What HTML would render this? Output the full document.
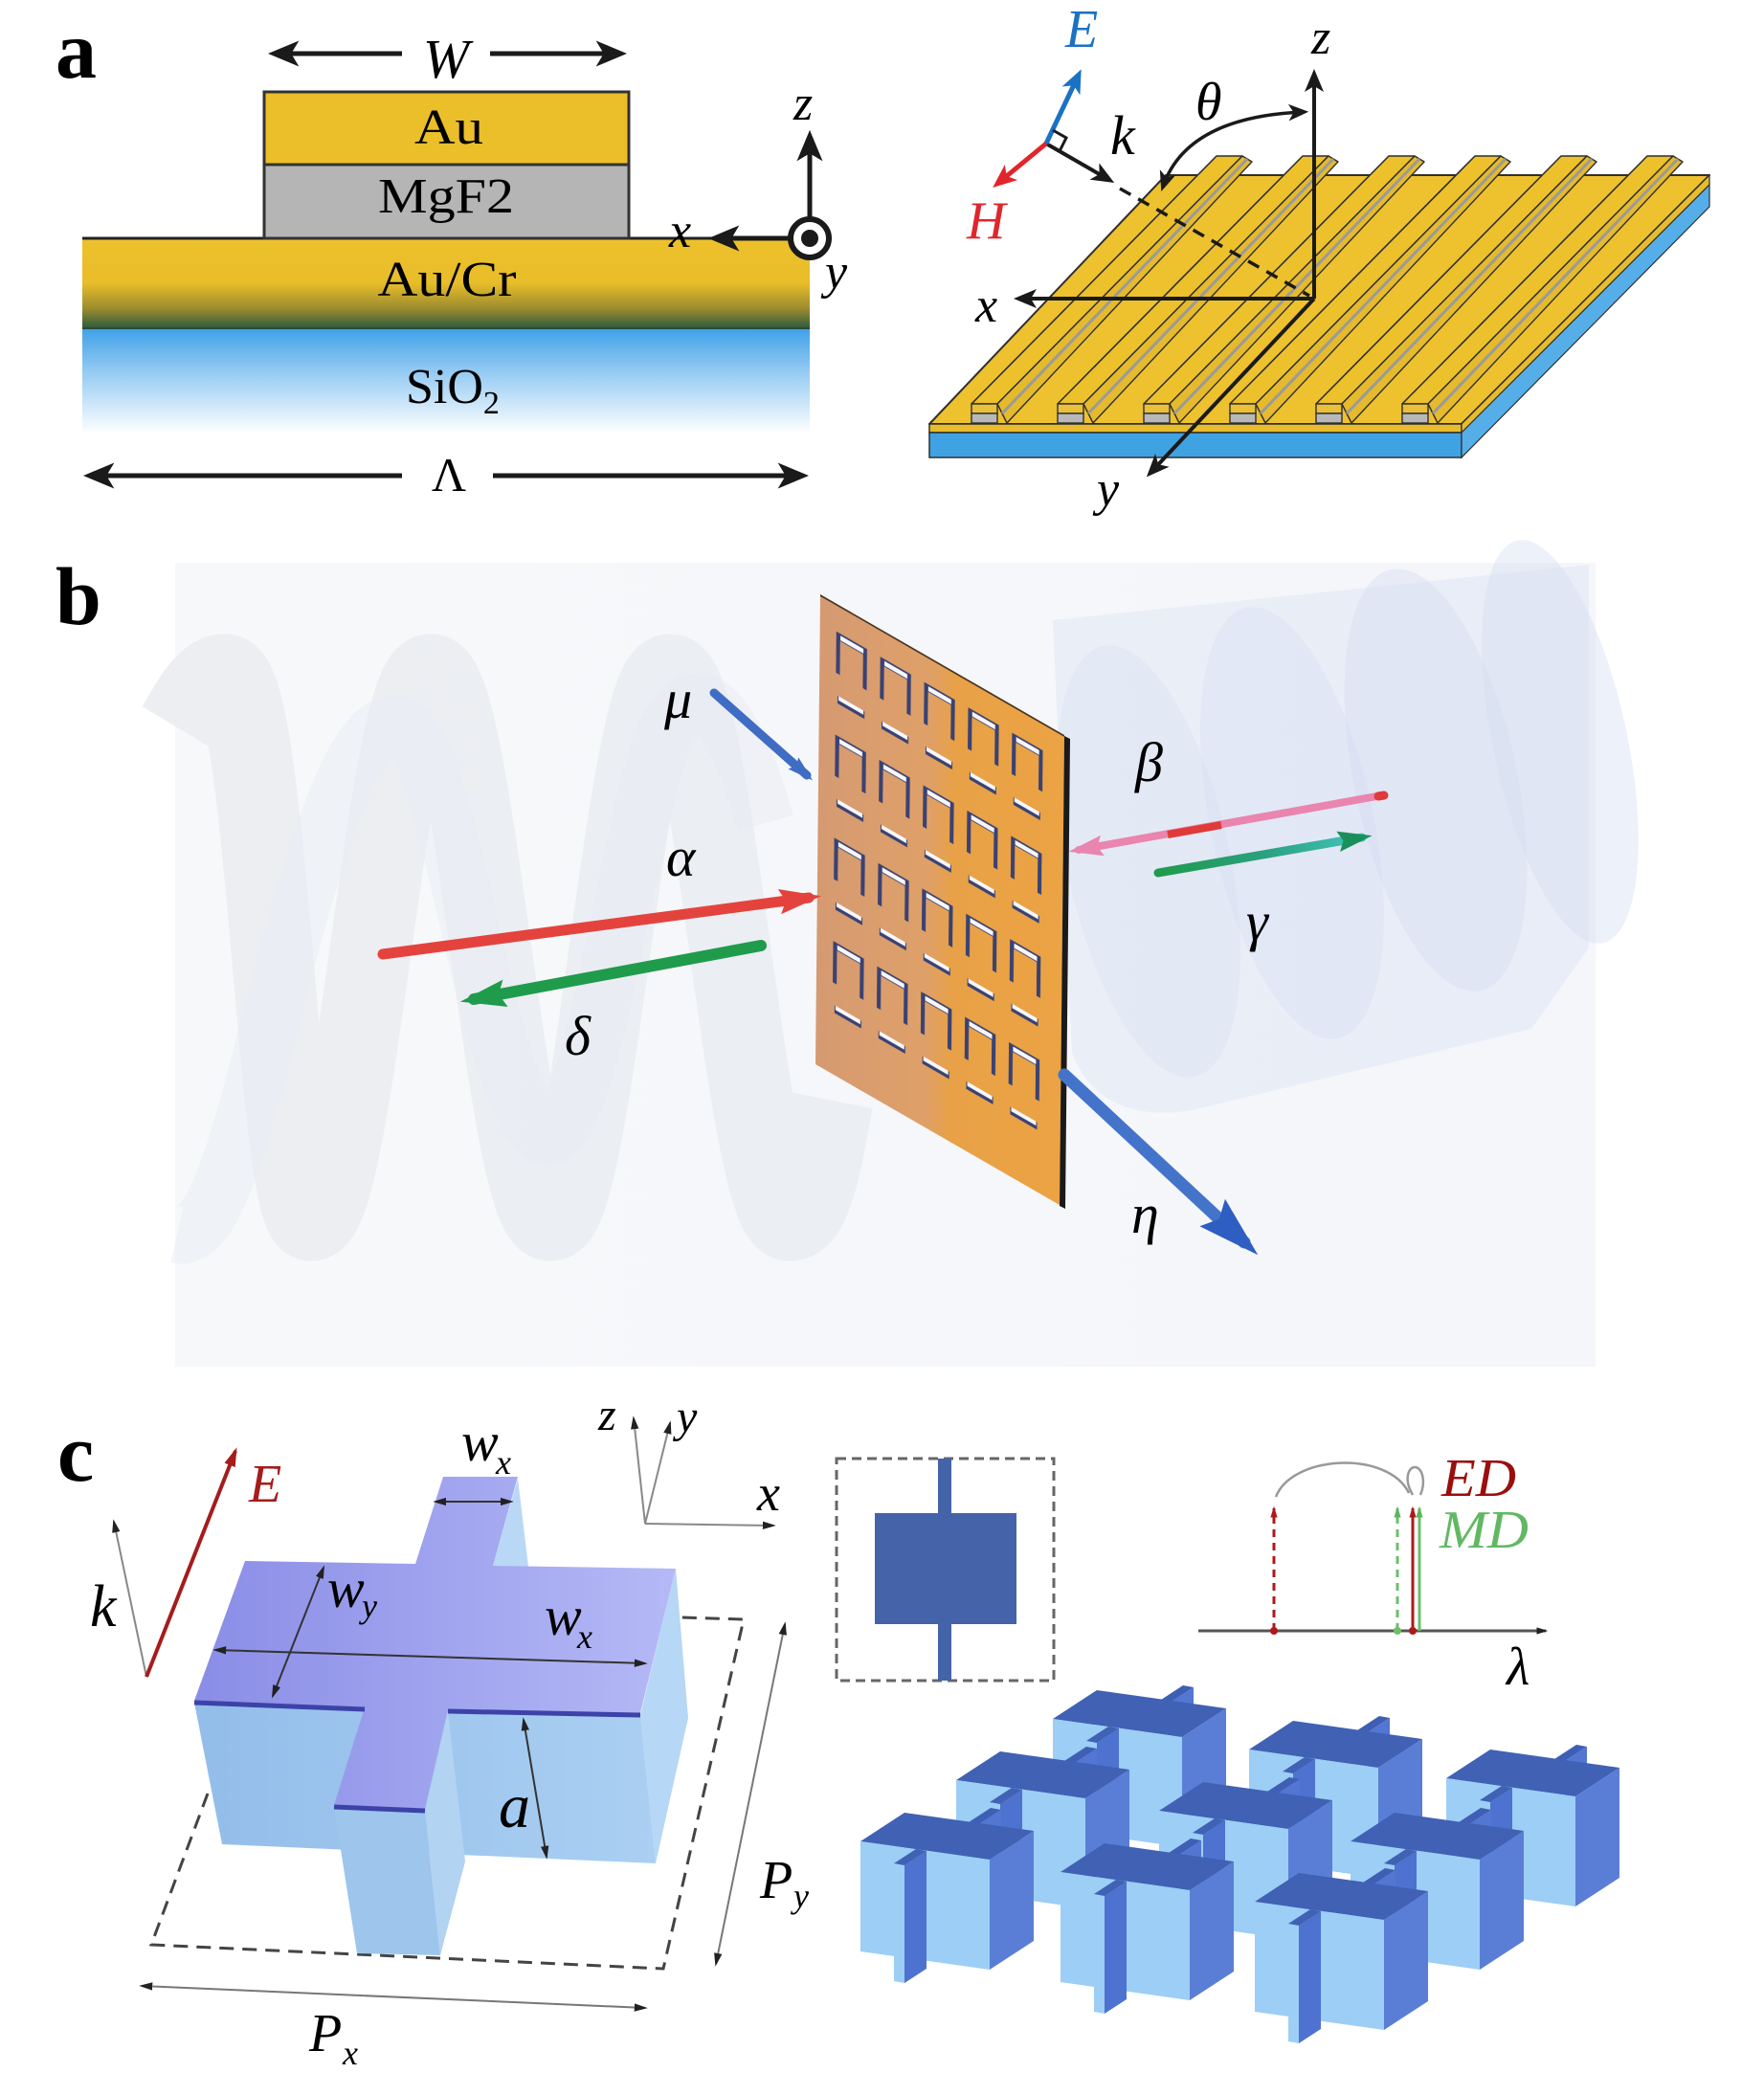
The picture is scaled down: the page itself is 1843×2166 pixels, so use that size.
<!DOCTYPE html>
<html><head><meta charset="utf-8">
<style>
html,body{margin:0;padding:0;background:#fff;}
svg{display:block;font-family:"Liberation Serif",serif;}
svg text{font-family:"Liberation Serif",serif;}
.it{font-style:italic;font-family:"Liberation Serif",serif;}
.bd{font-weight:bold;font-family:"Liberation Serif",serif;}
</style></head>
<body>
<svg width="1843" height="2166" viewBox="0 0 1843 2166" xmlns="http://www.w3.org/2000/svg" font-family="'Liberation Serif', serif">
<defs>
  <marker id="mA" viewBox="0 0 12 10" refX="9" refY="5" markerWidth="6.5" markerHeight="6.5" orient="auto-start-reverse"><path d="M0,0 L12,5 L0,10 L3,5Z" fill="#1a1a1a"/></marker>
  <marker id="mAE" viewBox="0 0 12 10" refX="9" refY="5" markerWidth="5" markerHeight="5" orient="auto"><path d="M0,0 L12,5 L0,10 L3,5Z" fill="#1B72C5"/></marker>
  <marker id="mAH" viewBox="0 0 12 10" refX="9" refY="5" markerWidth="5" markerHeight="5" orient="auto"><path d="M0,0 L12,5 L0,10 L3,5Z" fill="#E1252C"/></marker>
  <marker id="mAk" viewBox="0 0 12 10" refX="9" refY="5" markerWidth="6" markerHeight="6" orient="auto-start-reverse"><path d="M0,0 L12,5 L0,10 L3,5Z" fill="#1a1a1a"/></marker>

  <marker id="mBr" viewBox="0 0 10 6" refX="7" refY="3" markerWidth="4" markerHeight="2.6" orient="auto"><path d="M0,0 L10,3 L0,6 L1.5,3Z" fill="#E4433D"/></marker>
  <marker id="mBg" viewBox="0 0 10 6" refX="7" refY="3" markerWidth="4" markerHeight="2.6" orient="auto"><path d="M0,0 L10,3 L0,6 L1.5,3Z" fill="#1F9B4B"/></marker>
  <marker id="mBp" viewBox="0 0 10 6" refX="7" refY="3" markerWidth="4.5" markerHeight="3" orient="auto"><path d="M0,0 L10,3 L0,6 L1.5,3Z" fill="#E985AE"/></marker>
  <marker id="mBt" viewBox="0 0 10 6" refX="7" refY="3" markerWidth="4" markerHeight="2.6" orient="auto"><path d="M0,0 L10,3 L0,6 L1.5,3Z" fill="#1B8F5A"/></marker>
  <marker id="mBb" viewBox="0 0 10 6" refX="7" refY="3" markerWidth="3" markerHeight="2.4" orient="auto"><path d="M0,0 L10,3 L0,6 L1.5,3Z" fill="#3F6DC3"/></marker>
  <marker id="mBeta" viewBox="0 0 10 6" refX="7" refY="3" markerWidth="5" markerHeight="3.4" orient="auto"><path d="M0,0 L10,3 L0,6 L1.5,3Z" fill="#2E5EC2"/></marker>

  <marker id="mS" viewBox="0 0 10 6" refX="8" refY="3" markerWidth="7" markerHeight="5" orient="auto-start-reverse"><path d="M0,0 L10,3 L0,6Z" fill="#222"/></marker>
  <marker id="mSr" viewBox="0 0 10 6" refX="8" refY="3" markerWidth="5" markerHeight="3.5" orient="auto"><path d="M0,0 L10,3 L0,6Z" fill="#A51C1C"/></marker>
  <marker id="mPr" viewBox="0 0 10 6" refX="8" refY="3" markerWidth="4" markerHeight="3" orient="auto"><path d="M0,0 L10,3 L0,6Z" fill="#B01818"/></marker>
  <marker id="mPg" viewBox="0 0 10 6" refX="8" refY="3" markerWidth="4" markerHeight="3" orient="auto"><path d="M0,0 L10,3 L0,6Z" fill="#5DB55D"/></marker>
  <marker id="mPk" viewBox="0 0 10 6" refX="8" refY="3" markerWidth="4" markerHeight="3" orient="auto"><path d="M0,0 L10,3 L0,6Z" fill="#222"/></marker>

  <linearGradient id="aucr" x1="0" y1="0" x2="0" y2="1">
    <stop offset="0" stop-color="#EDC12B"/>
    <stop offset="0.5" stop-color="#E8BD2A"/>
    <stop offset="0.78" stop-color="#9C8C2E"/>
    <stop offset="1" stop-color="#2E5A3E"/>
  </linearGradient>
  <linearGradient id="sio2" x1="0" y1="0" x2="0" y2="1">
    <stop offset="0" stop-color="#3FA0E8"/>
    <stop offset="0.4" stop-color="#92C9F2"/>
    <stop offset="1" stop-color="#FFFFFF"/>
  </linearGradient>
  <linearGradient id="plateg" x1="0" y1="0" x2="1" y2="0">
    <stop offset="0" stop-color="#D59A72"/>
    <stop offset="0.45" stop-color="#DFA068"/>
    <stop offset="0.55" stop-color="#E8A147"/>
    <stop offset="1" stop-color="#EBA343"/>
  </linearGradient>
  <linearGradient id="topg" x1="203" y1="0" x2="706" y2="0" gradientUnits="userSpaceOnUse">
    <stop offset="0" stop-color="#8A8DE6"/>
    <stop offset="1" stop-color="#B5B9F6"/>
  </linearGradient>
  <linearGradient id="frontg" x1="203" y1="0" x2="685" y2="0" gradientUnits="userSpaceOnUse">
    <stop offset="0" stop-color="#93BDEA"/>
    <stop offset="1" stop-color="#AACFF2"/>
  </linearGradient>
  <linearGradient id="gammag" x1="1210" y1="0" x2="1432" y2="0" gradientUnits="userSpaceOnUse">
    <stop offset="0" stop-color="#1F9B4B"/>
    <stop offset="0.5" stop-color="#2AA080"/>
    <stop offset="1" stop-color="#45C8C0"/>
  </linearGradient>
  <linearGradient id="bbg" x1="0" y1="0" x2="1" y2="0">
    <stop offset="0" stop-color="#F7F8FA"/>
    <stop offset="1" stop-color="#F4F6FA"/>
  </linearGradient>

  <pattern id="holes" patternUnits="userSpaceOnUse" x="6" y="5" width="18" height="22">
    <path d="M1.5,9.5 V1.5 H12.5 V9.5" stroke="#3A4272" stroke-width="1.6" fill="none"/>
    <path d="M2.4,1.6 H11.8" stroke="#F7F7FB" stroke-width="1.0" fill="none"/>
    <path d="M1.5,15 H12.5" stroke="#3A4272" stroke-width="1.6" fill="none"/>
    <path d="M1.9,14.6 H12.1" stroke="#F7F7FB" stroke-width="0.9" fill="none"/>
  </pattern>

  <g id="strip">
    <polygon points="0,163 27,163 -229,422 -256,422" fill="#EDC12C" stroke="#2f2f2f" stroke-width="1.6" stroke-linejoin="round"/>
    <polygon points="27,163 37,169 -219,442 -229,422" fill="#E5BA2C" stroke="#2f2f2f" stroke-width="1.4" stroke-linejoin="round"/>
    <line x1="32" y1="166" x2="-224" y2="432" stroke="#9A9A9A" stroke-width="3"/>
    <rect x="-256" y="422" width="27" height="10" fill="#EAC03A" stroke="#2f2f2f" stroke-width="1.4"/>
    <rect x="-256" y="432" width="27" height="10" fill="#B8B8B8" stroke="#2f2f2f" stroke-width="1.4"/>
  </g>

  <g id="cube">
    <polygon points="113,-20 124,-18 147,-33 136,-35" fill="#3F5FB5"/>
    <polygon points="124,-18 147,-33 147,10 124,25" fill="#5376D2"/>
    <polygon points="0,0 135,19 181,-11 46,-30" fill="#4061B4"/>
    <polygon points="0,0 135,19 135,134 0,115" fill="#9CCEF6"/>
    <polygon points="135,19 181,-11 181,104 135,134" fill="#5A7ED6"/>
    <polygon points="69,10 46,25 46,148 69,133" fill="#4E72CF"/>
    <polygon points="35,23 46,25 46,148 35,146" fill="#9CCEF6"/>
    <polygon points="58,8 69,10 46,25 35,23" fill="#4061B4"/>
  </g>
</defs>

<rect width="1843" height="2166" fill="#fff"/>

<!-- ================= PANEL A LEFT ================= -->
<text x="58" y="81" font-size="86" font-weight="bold" class="bd">a</text>

<rect x="86" y="249" width="760" height="94" fill="url(#aucr)"/>
<rect x="86" y="343" width="760" height="110" fill="url(#sio2)"/>
<line x1="86" y1="343" x2="846" y2="343" stroke="#2A4A3A" stroke-width="2"/>
<line x1="86" y1="249" x2="846" y2="249" stroke="#222" stroke-width="3"/>
<rect x="276" y="96" width="381" height="76" fill="#EBBF2A" stroke="#333" stroke-width="3"/>
<rect x="276" y="172" width="381" height="77" fill="#B5B5B5" stroke="#333" stroke-width="3"/>

<text x="469" y="150" font-size="52" text-anchor="middle" textLength="72" lengthAdjust="spacingAndGlyphs">Au</text>
<text x="466" y="222" font-size="52" text-anchor="middle" textLength="142" lengthAdjust="spacingAndGlyphs">MgF2</text>
<text x="467" y="309" font-size="52" text-anchor="middle" textLength="145" lengthAdjust="spacingAndGlyphs">Au/Cr</text>
<text x="424" y="421" font-size="52">SiO<tspan font-size="34" dy="11">2</tspan></text>

<!-- W arrow -->
<line x1="420" y1="56" x2="288" y2="56" stroke="#1a1a1a" stroke-width="5" marker-end="url(#mA)"/>
<line x1="512" y1="56" x2="647" y2="56" stroke="#1a1a1a" stroke-width="5" marker-end="url(#mA)"/>
<text x="466" y="81" font-size="58" font-style="italic" class="it" text-anchor="middle">W</text>

<!-- Lambda arrow -->
<line x1="420" y1="497" x2="95" y2="497" stroke="#1a1a1a" stroke-width="5" marker-end="url(#mA)"/>
<line x1="515" y1="497" x2="837" y2="497" stroke="#1a1a1a" stroke-width="5" marker-end="url(#mA)"/>
<text x="469" y="513" font-size="50" text-anchor="middle">Λ</text>

<!-- axes a-left -->
<line x1="846" y1="228" x2="846" y2="144" stroke="#1a1a1a" stroke-width="5" marker-end="url(#mA)"/>
<line x1="824" y1="249" x2="748" y2="249" stroke="#1a1a1a" stroke-width="5" marker-end="url(#mA)"/>
<circle cx="846" cy="249" r="20" fill="#fff" stroke="#1a1a1a" stroke-width="6"/>
<circle cx="846" cy="249" r="9" fill="#1a1a1a"/>
<text x="829" y="125" font-size="52" font-style="italic" class="it">z</text>
<text x="699" y="258" font-size="52" font-style="italic" class="it">x</text>
<text x="862" y="301" font-size="52" font-style="italic" class="it">y</text>

<!-- ================= PANEL A RIGHT ================= -->
<polygon points="1218,183 1786,183 1527,443 971,443" fill="#EEC12E" stroke="#2f2f2f" stroke-width="2" stroke-linejoin="round"/>
<polygon points="971,443 1527,443 1527,452 971,452" fill="#E8BC2C" stroke="#2f2f2f" stroke-width="1.5"/>
<polygon points="971,452 1527,452 1527,478 971,478" fill="#3FA2E2" stroke="#2f2f2f" stroke-width="1.5"/>
<polygon points="1527,443 1786,183 1786,193 1527,452" fill="#E8BC2C" stroke="#2f2f2f" stroke-width="1.2"/>
<polygon points="1527,452 1786,193 1786,216 1527,478" fill="#55AEE8" stroke="#2f2f2f" stroke-width="1.2"/>

<use href="#strip" x="1271" y="0"/>
<use href="#strip" x="1361" y="0"/>
<use href="#strip" x="1451" y="0"/>
<use href="#strip" x="1541" y="0"/>
<use href="#strip" x="1631" y="0"/>
<use href="#strip" x="1721" y="0"/>

<line x1="1373" y1="312" x2="1373" y2="78" stroke="#1a1a1a" stroke-width="4" marker-end="url(#mAk)"/>
<line x1="1373" y1="312" x2="1065" y2="312" stroke="#1a1a1a" stroke-width="4" marker-end="url(#mAk)"/>
<line x1="1373" y1="312" x2="1202" y2="494" stroke="#1a1a1a" stroke-width="4" marker-end="url(#mAk)"/>
<line x1="1170" y1="197" x2="1368" y2="309" stroke="#1a1a1a" stroke-width="3.5" stroke-dasharray="13 9"/>
<line x1="1093" y1="150" x2="1159" y2="188" stroke="#1a1a1a" stroke-width="4" marker-end="url(#mAk)"/>
<line x1="1093" y1="150" x2="1127" y2="78" stroke="#1B72C5" stroke-width="5" marker-end="url(#mAE)"/>
<line x1="1093" y1="150" x2="1042" y2="192" stroke="#E1252C" stroke-width="5" marker-end="url(#mAH)"/>
<path d="M1100,136 L1114,144 L1107,158" fill="none" stroke="#1a1a1a" stroke-width="3"/>
<path d="M1215,195 Q1240,122 1362,117" fill="none" stroke="#1a1a1a" stroke-width="3.5" marker-start="url(#mAk)" marker-end="url(#mAk)"/>

<text x="1113" y="49" font-size="56" font-style="italic" class="it" fill="#1B72C5">E</text>
<text x="1010" y="249" font-size="56" font-style="italic" class="it" fill="#E1252C">H</text>
<text x="1160" y="161" font-size="58" font-style="italic" class="it">k</text>
<text x="1249" y="125" font-size="56" font-style="italic" class="it">θ</text>
<text x="1370" y="56" font-size="52" font-style="italic" class="it">z</text>
<text x="1019" y="336" font-size="52" font-style="italic" class="it">x</text>
<text x="1146" y="528" font-size="52" font-style="italic" class="it">y</text>

<!-- ================= PANEL B ================= -->
<text x="58" y="652" font-size="86" font-weight="bold" class="bd">b</text>
<rect x="183" y="588" width="1484" height="840" fill="url(#bbg)"/>

<path d="M185,760 C200,735 215,705 235,705 C280,705 290,1275 325,1275 C370,1275 405,705 450,705 C495,705 530,1275 575,1275 C620,1275 655,705 700,705 C745,705 780,1275 825,1275 C850,1275 860,1200 870,1150"
  fill="none" stroke="#EAECF1" stroke-width="85" opacity="0.9"/>
<path d="M185,1290 C230,1300 260,1150 300,1000 C340,850 380,740 420,760 C470,785 500,1100 560,1180 C610,1240 650,900 690,780 C720,700 760,720 800,860"
  fill="none" stroke="#E7EBF3" stroke-width="60" opacity="0.5"/>

<path d="M1100,648 L1660,590 L1660,990 L1600,1075 L1245,1160 Q1150,1175 1120,1100 Z" fill="#E4E9F5" opacity="0.7"/>
<ellipse cx="1200" cy="900" rx="85" ry="230" transform="rotate(-12 1200 900)" fill="#D9E0F2" opacity="0.4"/>
<ellipse cx="1350" cy="860" rx="85" ry="230" transform="rotate(-12 1350 860)" fill="#D7DFF2" opacity="0.4"/>
<ellipse cx="1500" cy="815" rx="85" ry="225" transform="rotate(-12 1500 815)" fill="#D5DDF1" opacity="0.4"/>
<ellipse cx="1630" cy="775" rx="70" ry="215" transform="rotate(-12 1630 775)" fill="#D3DCF1" opacity="0.4"/>

<g transform="matrix(2.55,1.47,-0.05,4.9,857,622)">
  <rect x="0" y="0" width="100" height="100" fill="url(#plateg)"/>
  <rect x="6" y="5" width="90" height="88" fill="url(#holes)"/>
  <line x1="0" y1="0" x2="100" y2="0" stroke="#4a3520" stroke-width="0.4"/>
</g>
<polygon points="1112,769 1118,772 1113,1263 1107,1260" fill="#1a1a1a"/>

<line x1="746" y1="724" x2="843" y2="810" stroke="#3F6DC3" stroke-width="9" stroke-linecap="round" marker-end="url(#mBb)"/>
<line x1="400" y1="997" x2="845" y2="938" stroke="#E4433D" stroke-width="11" stroke-linecap="round" marker-end="url(#mBr)"/>
<line x1="795" y1="988" x2="495" y2="1044" stroke="#1F9B4B" stroke-width="12" stroke-linecap="round" marker-end="url(#mBg)"/>
<line x1="1444" y1="831" x2="1127" y2="888" stroke="#E985AE" stroke-width="8" stroke-linecap="round" marker-end="url(#mBp)"/>
<line x1="1220" y1="872" x2="1276" y2="862" stroke="#E03A3A" stroke-width="8"/>
<line x1="1440" y1="832" x2="1446" y2="831" stroke="#E03A3A" stroke-width="9" stroke-linecap="round"/>
<line x1="1210" y1="912" x2="1423" y2="875" stroke="url(#gammag)" stroke-width="9" stroke-linecap="round" marker-end="url(#mBt)"/>
<line x1="1112" y1="1123" x2="1300" y2="1298" stroke="#4474CA" stroke-width="13" stroke-linecap="round" marker-end="url(#mBeta)"/>

<text x="694" y="750" font-size="58" font-style="italic" class="it">μ</text>
<text x="696" y="915" font-size="58" font-style="italic" class="it">α</text>
<text x="590" y="1102" font-size="58" font-style="italic" class="it">δ</text>
<text x="1186" y="816" font-size="58" font-style="italic" class="it">β</text>
<text x="1302" y="982" font-size="58" font-style="italic" class="it">γ</text>
<text x="1182" y="1288" font-size="58" font-style="italic" class="it">η</text>

<!-- ================= PANEL C LEFT ================= -->
<text x="60" y="1547" font-size="86" font-weight="bold" class="bd">c</text>

<path d="M217,1874 L158,2032 L693,2057 L777,1692 L711,1690" fill="none" stroke="#444" stroke-width="3" stroke-dasharray="15 9"/>

<polygon points="203,1779 669,1792 685,1947 232,1927" fill="url(#frontg)"/>
<polygon points="706,1639 719,1795 685,1947 669,1792" fill="#B6D7F5"/>
<polygon points="541,1545 552,1637 515,1636" fill="#B8D8F5"/>
<polygon points="349,1888 444,1892 460,2043 373,2041" fill="#9EC5EC"/>
<polygon points="468,1788 444,1892 460,2043 486,1945" fill="#B2D3F2"/>
<polygon points="463,1543 541,1543 515,1636 706,1639 669,1790 468,1786 444,1890 349,1886 381,1784 203,1777 256,1631 434,1634" fill="url(#topg)"/>
<line x1="203" y1="1779" x2="381" y2="1786" stroke="#3C42A8" stroke-width="5"/>
<line x1="468" y1="1788" x2="669" y2="1792" stroke="#3C42A8" stroke-width="5"/>
<line x1="349" y1="1888" x2="444" y2="1892" stroke="#3C42A8" stroke-width="5"/>

<line x1="455" y1="1569" x2="534" y2="1569" stroke="#333" stroke-width="2" marker-start="url(#mS)" marker-end="url(#mS)"/>
<line x1="338" y1="1638" x2="285" y2="1772" stroke="#333" stroke-width="2" marker-start="url(#mS)" marker-end="url(#mS)"/>
<line x1="225" y1="1724" x2="674" y2="1738" stroke="#333" stroke-width="2" marker-start="url(#mS)" marker-end="url(#mS)"/>
<line x1="547" y1="1797" x2="571" y2="1940" stroke="#333" stroke-width="2" marker-start="url(#mS)" marker-end="url(#mS)"/>
<line x1="820" y1="1697" x2="748" y2="2052" stroke="#777" stroke-width="2" marker-start="url(#mS)" marker-end="url(#mS)"/>
<line x1="148" y1="2075" x2="674" y2="2098" stroke="#777" stroke-width="2" marker-start="url(#mS)" marker-end="url(#mS)"/>

<line x1="153" y1="1752" x2="119" y2="1590" stroke="#888" stroke-width="2" marker-end="url(#mS)"/>
<line x1="153" y1="1752" x2="246" y2="1516" stroke="#A51C1C" stroke-width="4" marker-end="url(#mSr)"/>

<line x1="674" y1="1592" x2="662" y2="1482" stroke="#888" stroke-width="2" marker-end="url(#mS)"/>
<line x1="674" y1="1592" x2="700" y2="1487" stroke="#888" stroke-width="2" marker-end="url(#mS)"/>
<line x1="674" y1="1592" x2="808" y2="1594" stroke="#888" stroke-width="2" marker-end="url(#mS)"/>

<text x="260" y="1569" font-size="56" font-style="italic" class="it" fill="#A51C1C">E</text>
<text x="94" y="1699" font-size="62" font-style="italic" class="it">k</text>
<text x="482" y="1526" font-size="58" font-style="italic" class="it">w</text><text x="518" y="1540" font-size="36" font-style="italic" class="it">x</text>
<text x="342" y="1679" font-size="58" font-style="italic" class="it">w</text><text x="378" y="1690" font-size="36" font-style="italic" class="it">y</text>
<text x="569" y="1708" font-size="58" font-style="italic" class="it">w</text><text x="603" y="1722" font-size="36" font-style="italic" class="it">x</text>
<text x="521" y="1909" font-size="66" font-style="italic" class="it">a</text>
<text x="794" y="1983" font-size="56" font-style="italic" class="it">P</text><text x="829" y="1993" font-size="36" font-style="italic" class="it">y</text>
<text x="323" y="2143" font-size="56" font-style="italic" class="it">P</text><text x="358" y="2157" font-size="36" font-style="italic" class="it">x</text>
<text x="625" y="1494" font-size="48" font-style="italic" class="it">z</text>
<text x="707" y="1496" font-size="48" font-style="italic" class="it">y</text>
<text x="791" y="1578" font-size="54" font-style="italic" class="it">x</text>

<!-- ================= PANEL C RIGHT ================= -->
<rect x="874" y="1524" width="227" height="232" fill="none" stroke="#666" stroke-width="3" stroke-dasharray="10 6"/>
<rect x="980" y="1524" width="14" height="232" fill="#4563A8"/>
<rect x="914" y="1581" width="148" height="116" fill="#4563A8"/>

<line x1="1252" y1="1704" x2="1615" y2="1704" stroke="#555" stroke-width="3" marker-end="url(#mPk)"/>
<line x1="1331" y1="1704" x2="1331" y2="1576" stroke="#B01818" stroke-width="3" stroke-dasharray="8 6" marker-end="url(#mPr)"/>
<line x1="1460" y1="1704" x2="1460" y2="1576" stroke="#6DBE6D" stroke-width="3" stroke-dasharray="8 6" marker-end="url(#mPg)"/>
<line x1="1476" y1="1704" x2="1476" y2="1576" stroke="#B01818" stroke-width="3" marker-end="url(#mPr)"/>
<line x1="1483" y1="1704" x2="1483" y2="1576" stroke="#6DBE6D" stroke-width="3" marker-end="url(#mPg)"/>
<circle cx="1331" cy="1704" r="4" fill="#B01818"/>
<circle cx="1460" cy="1704" r="4" fill="#6DBE6D"/>
<circle cx="1476" cy="1704" r="4" fill="#B01818"/>
<path d="M1333,1564 C1350,1520 1450,1515 1472,1560" fill="none" stroke="#999" stroke-width="2.5"/>
<path d="M1476,1562 C1466,1545 1472,1533 1478,1533 C1486,1533 1490,1548 1484,1562" fill="none" stroke="#999" stroke-width="2.5"/>

<text x="1506" y="1563" font-size="56" font-style="italic" class="it" fill="#9B0E0E" textLength="78" lengthAdjust="spacingAndGlyphs">ED</text>
<text x="1504" y="1617" font-size="56" font-style="italic" class="it" fill="#62B862" textLength="93" lengthAdjust="spacingAndGlyphs">MD</text>
<text x="1574" y="1760" font-size="56" font-style="italic" class="it">λ</text>

<use href="#cube" x="1100" y="1796"/>
<use href="#cube" x="1305" y="1828"/>
<use href="#cube" x="1511" y="1858"/>
<use href="#cube" x="999" y="1860"/>
<use href="#cube" x="1211" y="1892"/>
<use href="#cube" x="1411" y="1924"/>
<use href="#cube" x="899" y="1924"/>
<use href="#cube" x="1108" y="1956"/>
<use href="#cube" x="1311" y="1987"/>

</svg>
</body></html>
